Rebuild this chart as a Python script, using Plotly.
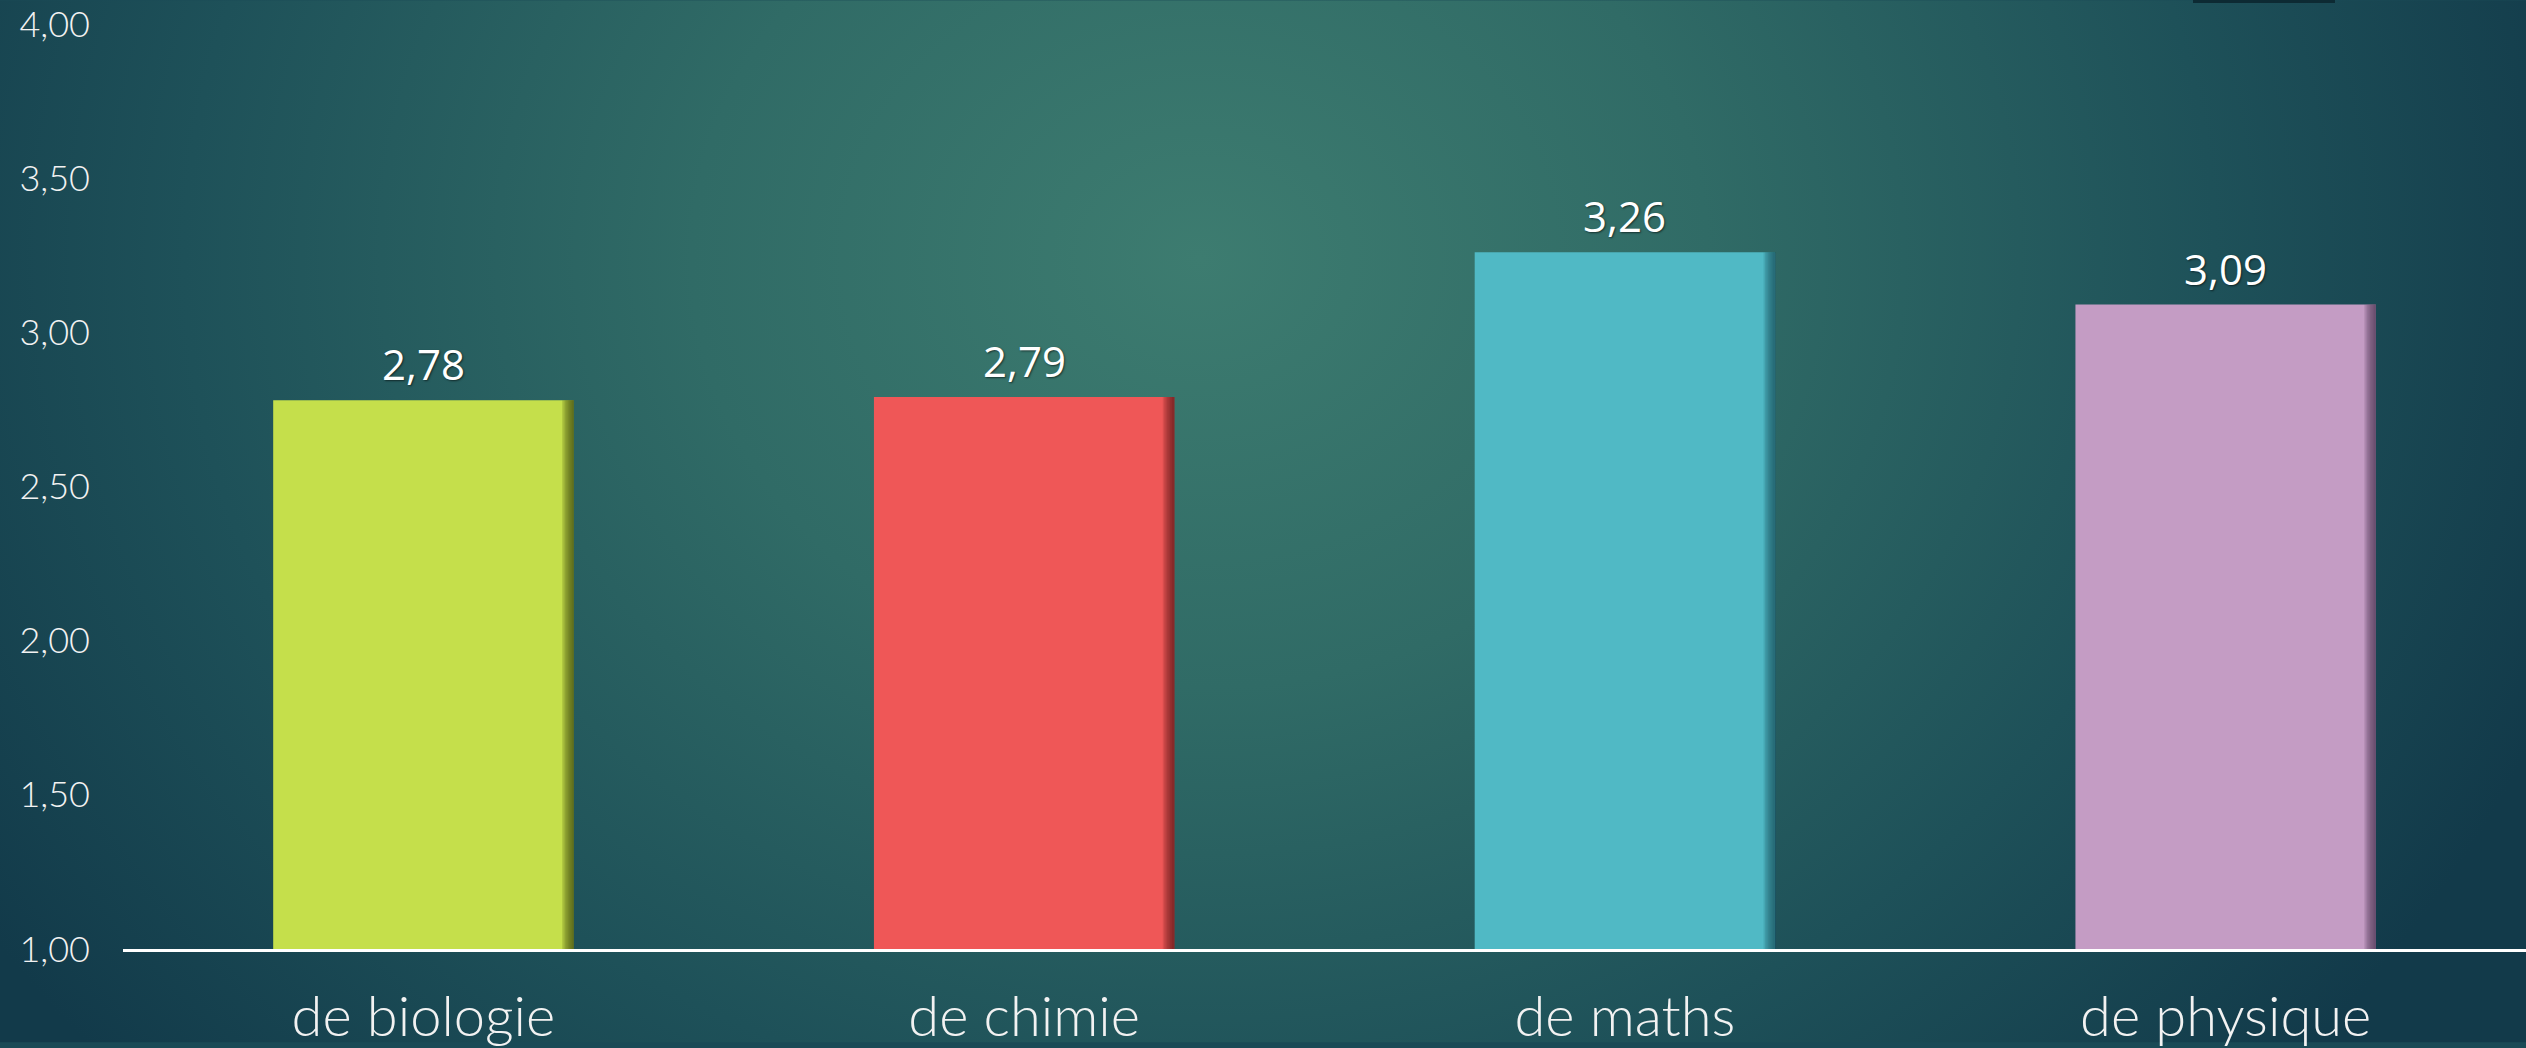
import base64
import plotly.graph_objects as go

categories = ["de biologie", "de chimie", "de maths", "de physique"]
values = [2.78, 2.79, 3.26, 3.09]
value_labels = ["2,78", "2,79", "3,26", "3,09"]
bar_colors = ["#C5DF4B", "#EF5757", "#50B9C5", "#C49CC4"]
shadow_colors = ["#4A5512", "#6A1E1E", "#1E5A62", "#54395A"]
tick_values = [1.0, 1.5, 2.0, 2.5, 3.0, 3.5, 4.0]
tick_labels = ["1,00", "1,50", "2,00", "2,50", "3,00", "3,50", "4,00"]

W, H = 2526, 1048
ML, MT, MB = 123, 24, 94

svg = f'''<svg xmlns="http://www.w3.org/2000/svg" width="{W}" height="{H}" viewBox="0 0 {W} {H}">
<defs>
<radialGradient id="g" cx="1200" cy="260" r="1450" gradientUnits="userSpaceOnUse"
 gradientTransform="translate(1200 260) scale(1 0.85) translate(-1200 -260)">
<stop offset="0" stop-color="#3D7C70"/>
<stop offset="0.35" stop-color="#306B66"/>
<stop offset="0.7" stop-color="#1E5159"/>
<stop offset="1" stop-color="#123A4A"/>
</radialGradient>
</defs>
<rect width="{W}" height="{H}" fill="url(#g)"/>
</svg>'''
bg_uri = "data:image/svg+xml;base64," + base64.b64encode(svg.encode()).decode()

PW, PH = W - ML, H - MT - MB

fig = go.Figure()
fig.add_trace(go.Bar(
    x=categories, y=[v - 1 for v in values], base=1,
    width=0.5, marker=dict(color=bar_colors, line=dict(width=0)),
    hoverinfo="skip", showlegend=False,
))
# right-edge shading: overlapping strips that all end at the bar's right edge
n_strips = 8
for i in range(n_strips):
    w = (i + 1) * 0.0024
    fig.add_trace(go.Bar(
        x=categories, y=[v - 1 for v in values], base=1,
        width=w, offset=0.25 - w,
        marker=dict(color=shadow_colors, line=dict(width=0), opacity=0.17),
        hoverinfo="skip", showlegend=False,
    ))

for c, v, t in zip(categories, values, value_labels):
    fig.add_annotation(
        x=c, y=v, text=t, showarrow=False, yanchor="bottom", yshift=6,
        font=dict(family="Open Sans", size=42, color="#FFFFFF", weight=500,
                  shadow="1px 1px 2px rgba(0,0,0,0.55)"),
    )

fig.update_layout(
    width=W, height=H,
    margin=dict(l=ML, r=0, t=MT, b=MB),
    paper_bgcolor="#1A4A56", plot_bgcolor="rgba(0,0,0,0)",
    barmode="overlay", bargap=0.5,
    images=[dict(source=bg_uri, xref="paper", yref="paper", x=-ML / PW, y=1 + MT / PH,
                 sizex=W / PW, sizey=H / PH, xanchor="left", yanchor="top",
                 sizing="stretch", layer="below")],
    shapes=[dict(type="rect", xref="paper", yref="paper",
                 x0=(2193 - ML) / PW, x1=(2335 - ML) / PW,
                 y0=1 + (MT - 3) / PH, y1=1 + (MT + 6) / PH,
                 fillcolor="#0D2A33", line=dict(width=0), layer="above")],
    xaxis=dict(
        showgrid=False, showline=True, linecolor="#FFFFFF", linewidth=3,
        ticks="", tickfont=dict(family="Lato", size=56, color="#F2F2F2", weight=300),
        ticklabelstandoff=17, fixedrange=True,
    ),
    yaxis=dict(
        range=[1, 4], showgrid=False, zeroline=False, showline=False,
        tickvals=tick_values, ticktext=tick_labels, ticks="",
        tickfont=dict(family="Lato", size=36, color="#F2F2F2", weight=300),
        ticklabelstandoff=32, fixedrange=True,
    ),
)

fig.write_html("out.html", config={"displayModeBar": False},
               post_script="document.body.style.margin='0';document.body.style.overflow='hidden';")
